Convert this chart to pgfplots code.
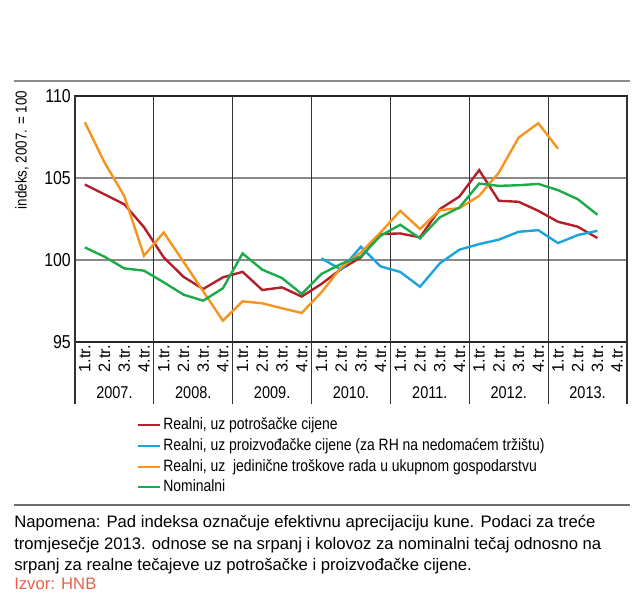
\documentclass[border=0pt]{standalone}
\usepackage{fontspec}
\setmainfont{Liberation Sans}
\newfontfamily\narrow{Liberation Sans}[FakeStretch=0.85]
\usepackage{pgfplots}
\pgfplotsset{compat=1.18}
\definecolor{cpotr}{HTML}{B2202A}
\definecolor{cproiz}{HTML}{1CA3DE}
\definecolor{crada}{HTML}{F7941E}
\definecolor{cnom}{HTML}{1DAA4B}
\definecolor{izvor}{HTML}{E8604C}
\definecolor{rule}{HTML}{8A8A8A}

\begin{document}
\begin{tikzpicture}[x=0.75pt,y=0.75pt]
\path (0,0) rectangle (638,601);
% top and bottom rules
\draw[rule, line width=1.5pt] (14,520) -- (630,520);
\draw[rule!80!black, line width=1pt] (14,96) -- (630,96);

\begin{axis}[
  at={(56.25pt,194.25pt)}, anchor=south west,
  scale only axis, width=414pt, height=184.5pt,
  xmin=0.5, xmax=28.5, ymin=95, ymax=110,
  ytick={95,100,105,110},
  xtick={1,...,28},
  xticklabels={1.tr.,2.tr.,3.tr.,4.tr.,1.tr.,2.tr.,3.tr.,4.tr.,1.tr.,2.tr.,3.tr.,4.tr.,1.tr.,2.tr.,3.tr.,4.tr.,1.tr.,2.tr.,3.tr.,4.tr.,1.tr.,2.tr.,3.tr.,4.tr.,1.tr.,2.tr.,3.tr.,4.tr.},
  xticklabel style={rotate=90, anchor=east, font=\fontsize{12.3}{12}\selectfont, inner sep=2pt},
  /pgf/number format/assume math mode=true,
  yticklabel style={font=\narrow\fontsize{14}{14}\selectfont, inner sep=3pt},
  major tick length=0pt,
  ymajorgrids, grid style={rule, line width=1pt},
  axis line style={black!85, line width=1pt},
  clip=false,
  legend style={at={(axis description cs:0.105,-0.285)}, anchor=north west,
    draw=none, fill=none, font=\narrow\fontsize{12.3}{14}\selectfont,
    row sep=0pt, nodes={inner ysep=1.5pt, text height=9.5pt, text depth=3pt}},
  legend cell align=left,
  legend image code/.code={\draw[#1, line width=1.6pt] (0pt,0pt) -- (16pt,0pt);},
]
% year separators
\foreach \s in {0.5,4.5,8.5,12.5,16.5,20.5,24.5,28.5}{
  \edef\tmp{\noexpand\draw[black!80, line width=0.9pt] (axis cs:\s,110) -- (axis cs:\s,91.2);}
  \tmp
}
\foreach \yr [count=\i] in {2007.,2008.,2009.,2010.,2011.,2012.,2013.}{
  \edef\tmp{\noexpand\node[font=\noexpand\narrow\noexpand\fontsize{12.8}{12}\noexpand\selectfont] at (axis cs:\fpeval{4*\i-1.5},91.9) {\yr};}
  \tmp
}
\addplot[cpotr, line width=1.8pt] coordinates {
(1,104.6) (2,104.0) (3,103.4) (4,102.0) (5,100.16) (6,98.98) (7,98.23) (8,98.94)
(9,99.28) (10,98.17) (11,98.33) (12,97.77) (13,98.54) (14,99.45) (15,100.16) (16,101.58)
(17,101.62) (18,101.38) (19,103.1) (20,103.87) (21,105.48) (22,103.61) (23,103.55) (24,103.0)
(25,102.33) (26,102.03) (27,101.34)};
\addlegendentry{Realni, uz potrošačke cijene}
\addplot[cproiz, line width=1.8pt] coordinates {
(13,100.1) (14,99.41) (15,100.81) (16,99.61) (17,99.27) (18,98.37) (19,99.79) (20,100.63)
(21,100.97) (22,101.24) (23,101.72) (24,101.82) (25,101.03) (26,101.52) (27,101.78)};
\addlegendentry{Realni, uz proizvođačke cijene (za RH na nedomaćem tržištu)}
\addplot[crada, line width=1.8pt] coordinates {
(1,108.4) (2,105.94) (3,103.9) (4,100.26) (5,101.68) (6,99.9) (7,98.1) (8,96.3)
(9,97.48) (10,97.36) (11,97.06) (12,96.77) (13,98.03) (14,99.55) (15,100.46) (16,101.68)
(17,103.0) (18,101.89) (19,103.04) (20,103.16) (21,103.91) (22,105.33) (23,107.46) (24,108.34)
(25,106.79)};
\addlegendentry{Realni, uz\ \ jedinične troškove rada u ukupnom gospodarstvu}
\addplot[cnom, line width=1.8pt] coordinates {
(1,100.77) (2,100.2) (3,99.49) (4,99.35) (5,98.64) (6,97.89) (7,97.52) (8,98.27)
(9,100.4) (10,99.41) (11,98.9) (12,97.93) (13,99.15) (14,99.76) (15,100.22) (16,101.48)
(17,102.15) (18,101.32) (19,102.6) (20,103.2) (21,104.66) (22,104.52) (23,104.56) (24,104.64)
(25,104.26) (26,103.71) (27,102.76)};
\addlegendentry{Nominalni}
\end{axis}

% y label
\node[rotate=90, font=\narrow\fontsize{11.8}{12}\selectfont] at (22,451) {indeks, 2007. = 100};

% note
\begin{scope}[every node/.style={anchor=base west, inner sep=0pt, font=\fontsize{12.5}{14}\selectfont}]
\node at (14,74) {Napomena: Pad indeksa označuje efektivnu aprecijaciju kune. Podaci za treće};
\node at (14,52) {tromjesečje 2013. odnose se na srpanj i kolovoz za nominalni tečaj odnosno na};
\node at (14,31) {srpanj za realne tečajeve uz potrošačke i proizvođačke cijene.};
\node[text=izvor] at (14,12) {Izvor: HNB};
\end{scope}
\end{tikzpicture}
\end{document}
